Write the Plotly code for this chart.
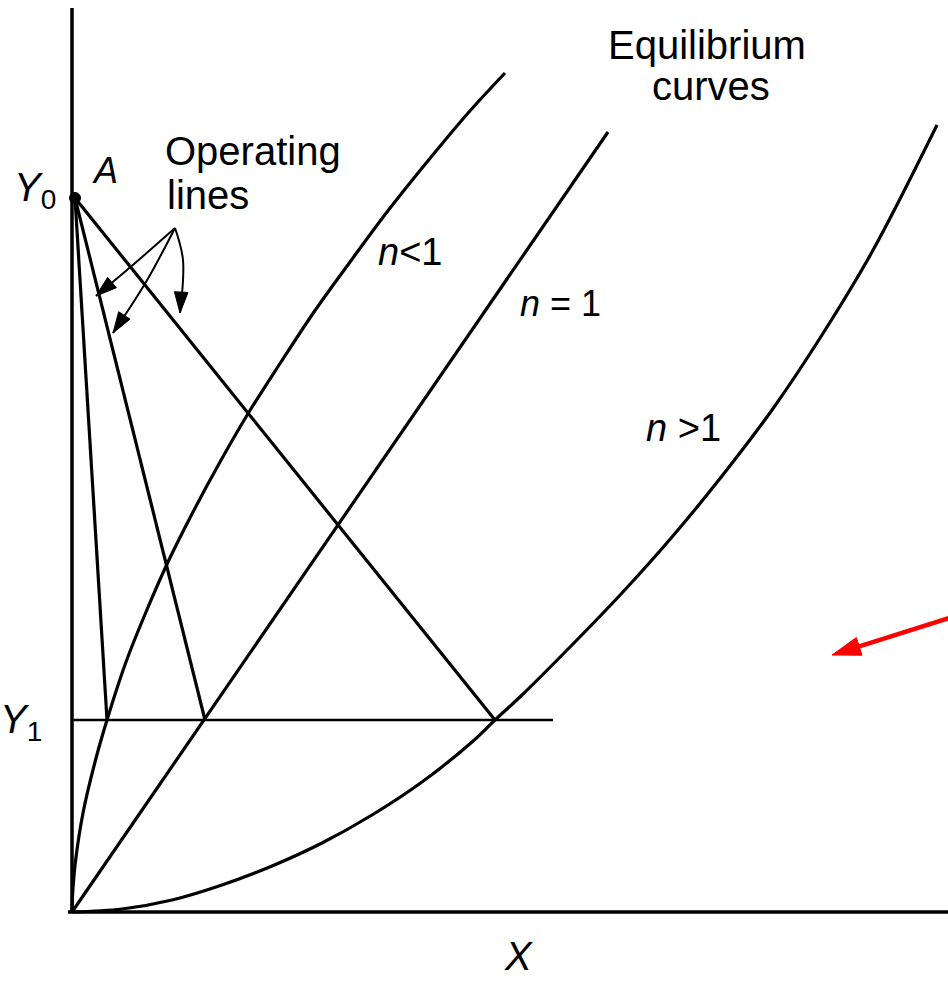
import plotly.graph_objects as go

# Axes scale: 1 unit of X or Y is 100 px on the page
Y0 = 7.14          # inlet concentration (point A)
Y1 = 1.92          # outlet concentration
A_X = 0.03

# Equilibrium curves, Y = f(X)
eq_lt1_x = [0.000, 0.007, 0.034, 0.112, 0.23, 0.35, 0.54, 0.74, 0.96, 1.21, 1.48,
            1.77, 2.09, 2.42, 2.78, 3.15, 3.55, 3.97, 4.33]
eq_lt1_y = [0.00, 0.19, 0.50, 1.00, 1.50, 1.92, 2.50, 3.00, 3.50, 4.00, 4.50,
            5.00, 5.50, 6.00, 6.50, 7.00, 7.50, 8.00, 8.39]

eq_eq1_x = [0.00, 5.36]
eq_eq1_y = [0.00, 7.80]

eq_gt1_x = [0.00, 0.50, 1.00, 1.50, 2.00, 2.50, 3.00, 3.50, 4.00, 4.23, 4.50,
            5.00, 5.50, 6.00, 6.50, 7.00, 7.50, 8.00, 8.65]
eq_gt1_y = [0.00, 0.03, 0.12, 0.27, 0.46, 0.69, 0.97, 1.30, 1.70, 1.92, 2.17,
            2.67, 3.19, 3.75, 4.36, 5.02, 5.77, 6.60, 7.87]

# Operating lines run from A to the equilibrium curves at Y1
op_end_x = [0.35, 1.33, 4.23]

# Y1 level line
y1_line_x = [0.00, 4.81]

# Axis extents
x_axis_x = [-0.04, 8.80]
y_axis_top = 9.04

# Callout arrows for "Operating lines": tail -> bend -> tip
callouts = [
    ([1.03, 0.62, 0.24], [6.84, 6.48, 6.16]),
    ([1.03, 0.74, 0.41], [6.84, 6.30, 5.79]),
    ([1.03, 1.11, 1.08], [6.84, 6.52, 5.99]),
]

# Red pointer arrow: tail -> tip
red_arrow_x = [8.80, 7.60]
red_arrow_y = [2.95, 2.57]

FONT = "Liberation Sans"
INK = "black"
LW = 3.2

fig = go.Figure()

def line(x, y, width=LW, shape="linear", color=INK):
    fig.add_trace(go.Scatter(x=x, y=y, mode="lines",
                             line=dict(color=color, width=width, shape=shape,
                                       smoothing=1.0),
                             hoverinfo="skip", showlegend=False))

def arrow(x, y, width, head, color=INK, shape="linear", symbol="arrow"):
    sizes = [0] * (len(x) - 1) + [head]
    fig.add_trace(go.Scatter(x=x, y=y, mode="lines+markers",
                             line=dict(color=color, width=width, shape=shape),
                             marker=dict(symbol=symbol, size=sizes, color=color,
                                         opacity=1, angleref="previous",
                                         line=dict(width=1, color=color)),
                             hoverinfo="skip", showlegend=False))

# axes
line(x_axis_x, [0, 0], width=3.5)
line([0, 0], [0, y_axis_top], width=3.5)

# equilibrium curves
line(eq_lt1_x, eq_lt1_y, shape="spline")
line(eq_eq1_x, eq_eq1_y)
line(eq_gt1_x, eq_gt1_y, shape="spline")

# Y1 line
line(y1_line_x, [Y1, Y1], width=2.5)

# operating lines
for xe in op_end_x:
    line([A_X, xe], [Y0, Y1])

# point A
fig.add_trace(go.Scatter(x=[A_X], y=[Y0], mode="markers",
                         marker=dict(symbol="circle", size=11, color=INK,
                                     line=dict(color=INK, width=1)),
                         hoverinfo="skip", showlegend=False))

# callout arrows
for cx, cy in callouts:
    arrow(cx, cy, width=2, head=22, shape="spline")

# red pointer
arrow(red_arrow_x, red_arrow_y, width=4.5, head=30, color="#ff0000")

ann = []

def text(x, y, s, size=40, xanchor="center", yanchor="middle"):
    ann.append(dict(x=x, y=y, xref="x", yref="y", text=s, showarrow=False,
                    xanchor=xanchor, yanchor=yanchor,
                    font=dict(family=FONT, size=size, color=INK)))

text(-0.14, 7.22, "<i>Y</i><sub>0</sub>", xanchor="right")
text(0.33, 7.42, "<i>A</i>", size=36)
text(0.91, 7.61, "Operating", xanchor="left")
text(0.93, 7.17, "lines", xanchor="left")
text(6.35, 8.67, "Equilibrium")
text(6.39, 8.26, "curves")
text(3.38, 6.60, "<i>n</i><1", size=38)
text(4.88, 6.09, "<i>n</i> = 1", size=36)
text(6.11, 4.84, "<i>n</i> >1", size=38)
text(-0.28, 1.90, "<i>Y</i><sub>1</sub>", xanchor="right")
text(4.46, -0.44, "<i>X</i>", size=40)

fig.update_layout(
    width=948, height=987,
    margin=dict(l=0, r=0, t=0, b=0),
    paper_bgcolor="white", plot_bgcolor="white",
    xaxis=dict(range=[-0.72, 8.76], visible=False, fixedrange=True),
    yaxis=dict(range=[-0.75, 9.12], visible=False, fixedrange=True),
    annotations=ann,
    showlegend=False,
)

fig.write_html("out.html")
